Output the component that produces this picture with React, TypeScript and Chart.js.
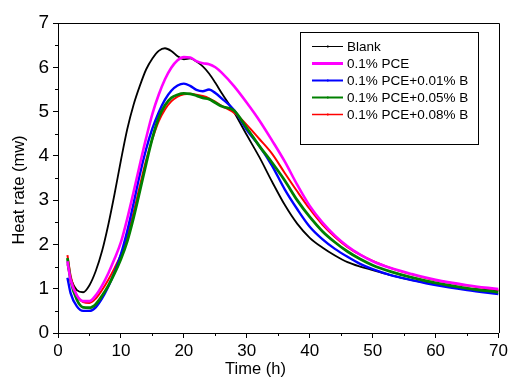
import React, { useEffect, useRef } from "react";
import { Chart, registerables } from "chart.js";

Chart.register(...registerables);

const times = [1.5, 2, 3, 4, 5, 6, 7, 8, 9, 10, 11, 12, 13, 14, 15, 16, 17, 18, 19, 20, 21, 22, 23, 24, 25, 26, 28, 30, 32, 34, 36, 38, 40, 42, 44, 46, 48, 50, 53, 56, 60, 65, 70];

const blank = [1.55, 1.25, 0.97, 0.92, 1.08, 1.4, 1.85, 2.45, 3.15, 3.9, 4.6, 5.15, 5.58, 5.95, 6.2, 6.37, 6.43, 6.37, 6.25, 6.18, 6.2, 6.13, 6.02, 5.86, 5.65, 5.42, 4.98, 4.47, 3.97, 3.42, 2.9, 2.47, 2.15, 1.93, 1.75, 1.6, 1.5, 1.42, 1.3, 1.2, 1.1, 1.01, 0.95];
const pce = [1.62, 1.2, 0.85, 0.72, 0.72, 0.85, 1.07, 1.35, 1.68, 2.05, 2.58, 3.18, 3.8, 4.4, 4.95, 5.38, 5.73, 5.99, 6.16, 6.23, 6.22, 6.14, 6.09, 6.07, 6.0, 5.88, 5.57, 5.2, 4.8, 4.35, 3.88, 3.35, 2.87, 2.5, 2.2, 1.96, 1.77, 1.62, 1.46, 1.34, 1.2, 1.08, 0.99];
const pceB001 = [1.25, 0.9, 0.6, 0.5, 0.5, 0.58, 0.78, 1.05, 1.38, 1.78, 2.3, 2.92, 3.58, 4.15, 4.62, 4.98, 5.27, 5.47, 5.59, 5.63, 5.58, 5.49, 5.46, 5.5, 5.42, 5.3, 5.03, 4.58, 4.22, 3.78, 3.25, 2.8, 2.4, 2.12, 1.9, 1.72, 1.56, 1.44, 1.3, 1.2, 1.08, 0.97, 0.88];
const pceB005 = [1.69, 1.2, 0.75, 0.58, 0.57, 0.65, 0.84, 1.07, 1.35, 1.67, 2.07, 2.6, 3.2, 3.82, 4.4, 4.86, 5.14, 5.31, 5.38, 5.41, 5.4, 5.36, 5.31, 5.28, 5.2, 5.12, 5.02, 4.63, 4.22, 3.85, 3.45, 3.0, 2.62, 2.3, 2.05, 1.84, 1.67, 1.53, 1.38, 1.26, 1.13, 1.01, 0.92];
const pceB008 = [1.76, 1.3, 0.85, 0.7, 0.68, 0.78, 0.97, 1.2, 1.47, 1.77, 2.18, 2.72, 3.32, 3.9, 4.38, 4.78, 5.05, 5.23, 5.34, 5.39, 5.4, 5.38, 5.35, 5.3, 5.22, 5.13, 4.97, 4.7, 4.38, 4.05, 3.62, 3.2, 2.8, 2.45, 2.17, 1.94, 1.77, 1.63, 1.46, 1.33, 1.19, 1.07, 0.97];

const seriesLabels = ["Blank", "0.1% PCE", "0.1% PCE+0.01% B", "0.1% PCE+0.05% B", "0.1% PCE+0.08% B"];
const seriesValues = [blank, pce, pceB001, pceB005, pceB008];
const seriesColors = ["#000000", "#ff00ff", "#0000ff", "#008000", "#ff0000"];
const seriesWidths = [1.8, 2.6, 2.4, 2.8, 2.0];
const legendWidths = [1, 3, 2, 2, 1.5];
const drawOrder = [5, 1, 3, 2, 4];

const yTicks = [0, 1, 2, 3, 4, 5, 6, 7];
const xTicks = [0, 10, 20, 30, 40, 50, 60, 70];
const yMinorTicks = [0.5, 1.5, 2.5, 3.5, 4.5, 5.5, 6.5];
const xMinorTicks = [5, 15, 25, 35, 45, 55, 65];

const FONT = "'Liberation Sans', Arial, sans-serif";

const decorPlugin = {
  id: "decor",
  afterDraw(chart: any) {
    const { ctx, chartArea, scales } = chart;
    const { left, right, top, bottom } = chartArea;
    ctx.save();
    ctx.strokeStyle = "#000";
    ctx.lineWidth = 1;
    ctx.beginPath();
    ctx.moveTo(left, Math.round(top) + 0.5);
    ctx.lineTo(Math.round(right) + 0.5, Math.round(top) + 0.5);
    ctx.lineTo(Math.round(right) + 0.5, bottom);
    ctx.stroke();
    ctx.beginPath();
    yMinorTicks.forEach((v) => {
      const y = Math.round(scales.y.getPixelForValue(v)) + 0.5;
      ctx.moveTo(left - 3, y);
      ctx.lineTo(left, y);
    });
    xMinorTicks.forEach((v) => {
      const x = Math.round(scales.x.getPixelForValue(v)) + 0.5;
      ctx.moveTo(x, bottom);
      ctx.lineTo(x, bottom + 3);
    });
    ctx.stroke();

    ctx.fillStyle = "#000";
    ctx.font = `16.5px ${FONT}`;
    ctx.textAlign = "center";
    ctx.textBaseline = "middle";
    ctx.fillText("Time (h)", chart.width / 2, 369);
    ctx.save();
    ctx.translate(19, 190);
    ctx.rotate(-Math.PI / 2);
    ctx.fillText("Heat rate (mw)", 0, 0);
    ctx.restore();

    const bx = 300.5, by = 32.5, bw = 178, bh = 112;
    ctx.strokeStyle = "#000";
    ctx.lineWidth = 1;
    ctx.strokeRect(bx, by, bw, bh);
    ctx.font = `13.5px ${FONT}`;
    ctx.textAlign = "left";
    ctx.textBaseline = "middle";
    chart.data.datasets.forEach((ds: any, i: number) => {
      const y = 46.5 + 17 * i;
      ctx.strokeStyle = ds.borderColor;
      ctx.lineWidth = legendWidths[i];
      ctx.beginPath();
      ctx.moveTo(312, y);
      ctx.lineTo(343, y);
      ctx.stroke();
      ctx.fillStyle = ds.borderColor;
      ctx.fillRect(327, y - 1, 1.5, 2);
      ctx.fillStyle = "#000";
      ctx.fillText(ds.label, 347, y + 0.5);
    });
    ctx.restore();
  },
};

export default function App() {
  const ref = useRef<HTMLCanvasElement>(null);
  useEffect(() => {
    document.body.style.margin = "0";
    const canvas = ref.current!;
    const chart = new Chart(canvas, {
      type: "line",
      data: {
        datasets: seriesLabels.map((label, i) => ({
          label,
          data: times.map((t, j) => ({ x: t, y: seriesValues[i][j] })),
          borderColor: seriesColors[i],
          backgroundColor: seriesColors[i],
          borderWidth: seriesWidths[i],
          pointRadius: 0,
          tension: 0.4,
          cubicInterpolationMode: "monotone" as const,
          fill: false,
          order: drawOrder[i],
        })),
      },
      options: {
        animation: false,
        responsive: false,
        devicePixelRatio: 1,
        layout: { padding: { left: 0, top: 23, right: 9, bottom: 0 } },
        plugins: { legend: { display: false }, tooltip: { enabled: false } },
        scales: {
          x: {
            type: "linear",
            min: 0,
            max: 70,
            afterBuildTicks: (s: any) => {
              s.ticks = xTicks.map((v) => ({ value: v }));
            },
            afterFit: (s: any) => {
              s.height = 45;
            },
            ticks: {
              font: { family: FONT, size: 17 },
              color: "#000",
              padding: 3,
              maxRotation: 0,
              autoSkip: false,
            },
            grid: { drawOnChartArea: false, drawTicks: true, tickLength: 5, tickColor: "#000", tickWidth: 1 },
            border: { display: true, color: "#000", width: 1 },
          },
          y: {
            type: "linear",
            min: 0,
            max: 7,
            afterBuildTicks: (s: any) => {
              s.ticks = yTicks.map((v) => ({ value: v }));
            },
            afterFit: (s: any) => {
              s.width = 58;
            },
            ticks: {
              font: { family: FONT, size: 19 },
              color: "#000",
              padding: 4,
              autoSkip: false,
            },
            grid: { drawOnChartArea: false, drawTicks: true, tickLength: 5, tickColor: "#000", tickWidth: 1 },
            border: { display: true, color: "#000", width: 1 },
          },
        },
      },
      plugins: [decorPlugin],
    });
    return () => chart.destroy();
  }, []);
  return <canvas ref={ref} width={511} height={378} style={{ display: "block" }} />;
}
